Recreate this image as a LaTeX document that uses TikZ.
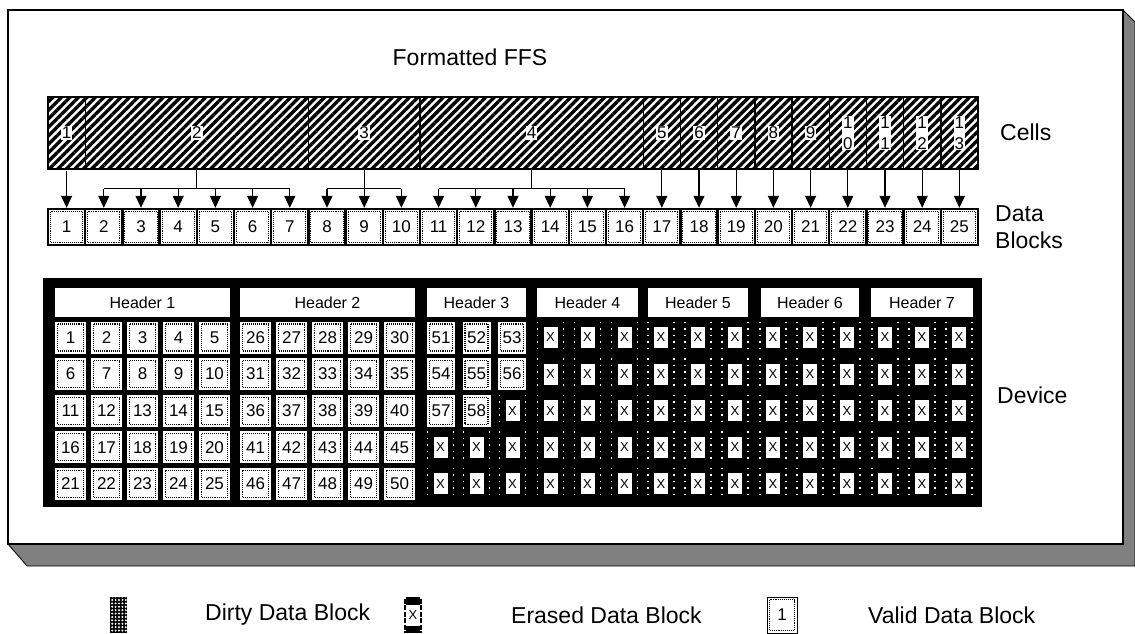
\documentclass[tikz,border=0pt]{standalone}
\usepackage{fontspec}
\setmainfont{Liberation Sans}
\usetikzlibrary{arrows.meta,positioning,patterns.meta,calc}
\definecolor{shade}{HTML}{808080}
\newcommand{\fsz}[1]{\fontsize{#1}{#1}\selectfont}
\tikzset{
  lbl/.style={font=\fontsize{23}{27}\selectfont,inner sep=0pt},
  cellbox/.style={draw,line width=1.4pt,minimum height=72pt,inner sep=0pt,
    preaction={fill=white},pattern={Lines[angle=45,distance=6pt,line width=3.4pt]}},
  cnum/.style={fill=white,inner sep=1pt,font=\fontsize{17}{21}\selectfont,align=center},
  vblk/.style={fill=white,inner sep=0pt,minimum width=31pt,minimum height=32pt,font=\fsz{17},
    path picture={\draw[densely dotted,line width=1.1pt]
      ([shift={(2.5pt,-2.5pt)}]path picture bounding box.north west) rectangle
      ([shift={(-2.5pt,2.5pt)}]path picture bounding box.south east);}},
  datablk/.style={vblk,draw,line width=2.4pt,minimum width=37.2pt,minimum height=36pt},
  hdr/.style={fill=white,inner sep=0pt,minimum height=29pt,font=\fsz{16}},
  erased/.style={fill=black,inner sep=0pt,minimum width=28pt,minimum height=32pt,font=\fsz{13},
    path picture={
      \fill[white] ([shift={(-7pt,-10.5pt)}]path picture bounding box.center) rectangle ++(14pt,21pt);
      \draw[white,line width=1.5pt,dash pattern=on 1.5pt off 5pt]
        ([xshift=1pt]path picture bounding box.north west) -- ([xshift=1pt]path picture bounding box.south west)
        ([xshift=-1pt]path picture bounding box.north east) -- ([xshift=-1pt]path picture bounding box.south east);}},
  arr/.style={-{Triangle[length=12pt,width=11pt]},line width=1.2pt},
  bar/.style={line width=1.2pt},
}
\begin{document}
\begin{tikzpicture}[x=1pt,y=-1pt]
  \useasboundingbox (0,0) rectangle (1135,634);
  \fill[white] (0,0) rectangle (1135,634);
  % frame with shadow
  \filldraw[fill=shade,line width=0.8pt] (1123,10) -- (1135,22) -- (1135,566) -- (27,566) -- (8,544) -- (1123,544) -- cycle;
  \draw[line width=1.5pt,fill=white] (8,10) rectangle (1123,544);
  \node[lbl] (ttl) at (470,57) {Formatted FFS};
  % cells
  \foreach \i/\a/\b/\t in {1/1/1/1,2/2/7/2,3/8/10/3,4/11/16/4,5/17/17/5,6/18/18/6,7/19/19/7,8/20/20/8,9/21/21/9,10/22/22/{1\\0},11/23/23/{1\\1},12/24/24/{1\\2},13/25/25/{1\\3}}{
    \node[cellbox,minimum width={37.2*(\b-\a+1)*1pt}] (c\i) at ({48+37.2*(\a+\b-1)/2},133) {};
    \node[cnum] (cn\i) at (c\i) {\t};
  }
  % data blocks
  \foreach \i in {1,...,25}
    \node[datablk] (d\i) at ({48+37.2*(\i-0.5)},227) {\i};
  \foreach \i/\j in {1/1,5/17,6/18,7/19,8/20,9/21,10/22,11/23,12/24,13/25}
    \draw[arr] (c\i) -- (d\j);
  \foreach \i/\a/\b in {2/2/7,3/8/10,4/11/16}{
    \coordinate (k\i) at ($(c\i.south)+(0,19)$);
    \draw[bar] (c\i.south) -- (k\i);
    \draw[bar] (d\a |- k\i) -- (d\b |- k\i);
    \foreach \j in {\a,...,\b} \draw[arr] (d\j |- k\i) -- (d\j);
  }
  \node[lbl,anchor=west] (lc) at (1000,132) {Cells};
  \node[lbl,anchor=west,align=left] (ld) at (995,227) {Data\\Blocks};
  % device
  \node[fill=black,minimum width=939pt,minimum height=229pt,inner sep=0pt] (dev) at (512.5,392.5) {};
  \foreach \s/\sx/\w in {1/142.5/175,2/327.5/175,3/476.5/99,4/587.5/101,5/698/100,6/810/98,7/922/102}
    \node[hdr,minimum width=\w*1pt] (h\s) at (\sx,302.5) {Header \s};
  \foreach \s/\sx in {0/142.5,1/327.5}
    \foreach \r in {1,...,5}
      \foreach \c in {1,...,5}{
        \pgfmathtruncatemacro\n{25*\s+5*(\r-1)+\c}
        \node[vblk] (v\n) at ({\sx+36*(\c-3)},{337.5+36.6*(\r-1)}) {\n};
      }
  \foreach \r in {1,...,5}
    \foreach \c in {1,2,3}{
      \pgfmathtruncatemacro\k{3*(\r-1)+\c}
      \pgfmathtruncatemacro\n{50+\k}
      \ifnum\k<9
        \node[vblk,minimum width=28pt] (v\n) at ({476.5+35.5*(\c-2)},{337.5+36.6*(\r-1)}) {\n};
      \else
        \node[erased] (e3\r\c) at ({476.5+36*(\c-2)},{337.5+36.6*(\r-1)}) {X};
      \fi
    }
  \foreach \s/\sx in {4/587.5,5/698,6/810,7/922}
    \foreach \r in {1,...,5}
      \foreach \c in {1,2,3}
        \node[erased] (e\s\r\c) at ({\sx+37*(\c-2)},{337.5+36.6*(\r-1)}) {X};
  \node[lbl,anchor=west] (lv) at (997,395) {Device};
  % legend
  \node[preaction={fill=black},pattern color=white,pattern={Dots[radius=1.1pt,distance=3.4pt]},minimum width=17pt,minimum height=36pt,inner sep=0pt] (kd) at (118.5,615) {};
  \node[lbl,anchor=west] (kdt) at (205,615) {Dirty Data Block};
  \node[erased,minimum width=18pt,minimum height=36pt] (ke) at (413,615) {X};
  \node[lbl,anchor=west] (ket) at (511,615) {Erased Data Block};
  \node[vblk,draw,minimum width=30pt,minimum height=36pt] (kv) at (782,615) {1};
  \node[lbl,anchor=west] (kvt) at (868,615) {Valid Data Block};
\end{tikzpicture}
\end{document}
